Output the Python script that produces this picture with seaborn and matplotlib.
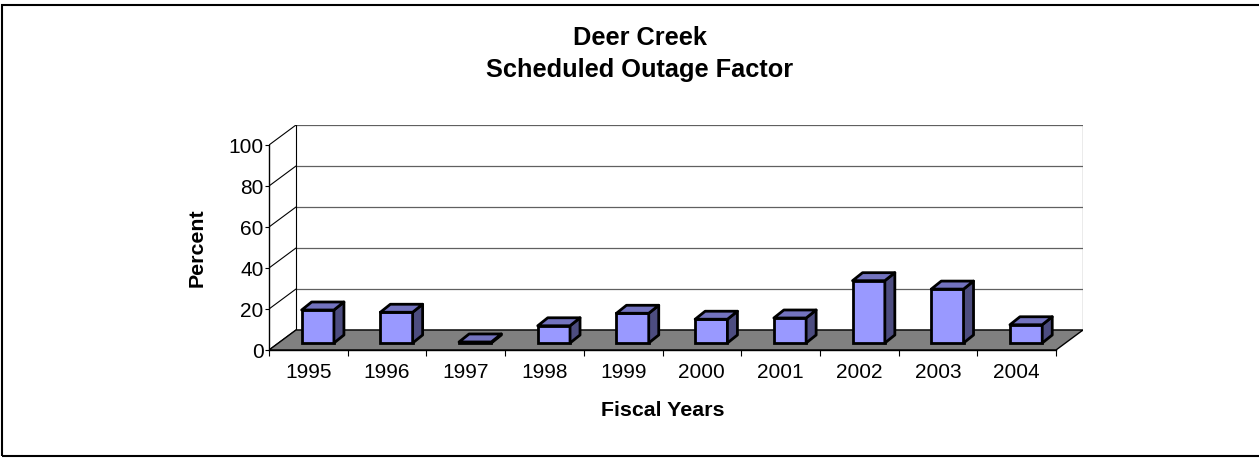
import matplotlib
matplotlib.use("Agg")
import matplotlib.pyplot as plt
from matplotlib.patches import Polygon, Rectangle
from matplotlib.ticker import FixedLocator
import seaborn as sns

sns.set_style("white")
plt.rcParams["font.family"] = ["Liberation Sans", "DejaVu Sans"]
plt.rcParams["text.color"] = "black"
plt.rcParams["axes.labelcolor"] = "black"

years = ["1995", "1996", "1997", "1998", "1999", "2000", "2001", "2002", "2003", "2004"]
outage = [16.1, 15.0, 0.5, 8.4, 14.5, 11.6, 12.2, 30.4, 26.3, 8.9]
y_ticks = [0, 20, 40, 60, 80, 100]

# 3d look: depth of the floor / wall and of the bars, in data units
DX, DY = 0.343, 9.76
f = 0.35                # where the bar front sits in the floor depth
bdx, bdy = 0.127, 3.9   # bar depth
front_c, top_c, side_c = "#9999FF", "#7373BF", "#4D4D80"

fig = plt.figure(figsize=(12.59, 4.58), dpi=100)
ax = fig.add_axes([269 / 1259, 108 / 458, 814 / 1259, 225 / 458])

sns.barplot(x=years, y=outage, color=front_c, saturation=1, width=0.41,
            edgecolor="black", linewidth=2, ax=ax, zorder=3)
bars = list(ax.patches)

ox, oy = f * DX, f * DY
for b in bars:
    x0 = b.get_x() + ox
    w = b.get_width()
    h = b.get_height()
    b.set_x(x0)
    b.set_y(oy)
    y1 = oy + h
    top = Polygon([(x0, y1), (x0 + w, y1), (x0 + w + bdx, y1 + bdy), (x0 + bdx, y1 + bdy)],
                  closed=True, fc=top_c, ec="black", lw=2, zorder=3, joinstyle="round")
    side = Polygon([(x0 + w, oy), (x0 + w + bdx, oy + bdy), (x0 + w + bdx, y1 + bdy), (x0 + w, y1)],
                   closed=True, fc=side_c, ec="black", lw=2, zorder=3, joinstyle="round")
    ax.add_patch(side)
    ax.add_patch(top)

x0, x1 = -0.5, len(years) - 0.5

# floor
ax.add_patch(Polygon([(x0, 0), (x1, 0), (x1 + DX, DY), (x0 + DX, DY)],
                     closed=True, fc="#808080", ec="black", lw=1, zorder=2))

# walls and gridlines
for v in y_ticks:
    ax.plot([x0, x0 + DX], [v, v + DY], color="black", lw=0.8, zorder=1)
    ax.plot([x0 + DX, x1 + DX], [v + DY, v + DY], color="#606060" if v else "black",
            lw=0.9, zorder=1)
ax.plot([x0 + DX, x0 + DX], [DY, 100 + DY], color="black", lw=0.8, zorder=1)
ax.plot([x1 + DX, x1 + DX], [DY, 100 + DY], color="#606060", lw=0.9, zorder=1)

ax.set_xlim(x0, x1 + DX)
ax.set_ylim(0, 100 + DY)
ax.set_yticks(y_ticks)
ax.set_xticks(range(len(years)))
ax.set_xticklabels(years)
ax.xaxis.set_minor_locator(FixedLocator([i - 0.5 for i in range(len(years) + 1)]))

for s in ["top", "right"]:
    ax.spines[s].set_visible(False)
ax.spines["left"].set_bounds(0, 100)
ax.spines["bottom"].set_bounds(x0, x1)
for s in ["left", "bottom"]:
    ax.spines[s].set_color("black")
    ax.spines[s].set_linewidth(1)
    ax.spines[s].set_zorder(4)

ax.tick_params(axis="y", which="major", left=True, length=3, width=0.8, direction="out",
               pad=1, labelsize=15, colors="black")
ax.tick_params(axis="x", which="major", bottom=True, length=0, pad=9, labelsize=15,
               colors="black")
ax.tick_params(axis="x", which="minor", bottom=True, length=4, width=0.8, direction="out",
               color="black")
ax.set_xlabel("")
ax.set_ylabel("")
ax.patch.set_alpha(0)

fig.text(640 / 1259, 1 - 38 / 458, "Deer Creek", ha="center", va="center",
         fontsize=18.3, fontweight="bold")
fig.text(640 / 1259, 1 - 70 / 458, "Scheduled Outage Factor", ha="center", va="center",
         fontsize=18.3, fontweight="bold")
fig.text(663 / 1259, 1 - 411 / 458, "Fiscal Years", ha="center", va="center",
         fontsize=15.4, fontweight="bold")
fig.text(197 / 1259, 1 - 248 / 458, "Percent", ha="center", va="center",
         rotation=90, fontsize=15.4, fontweight="bold")

# outer frame, its right edge falls outside the picture
fig.add_artist(Rectangle((1.5 / 1259, 2 / 458), 1270 / 1259, 451 / 458,
                         transform=fig.transFigure, fill=False, ec="black", lw=1.5))

fig.savefig("out.png", dpi=100)
